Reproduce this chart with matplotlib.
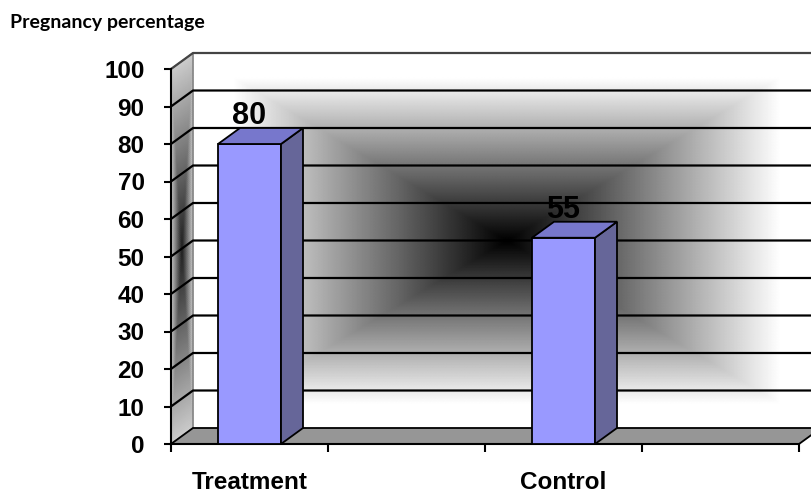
import numpy as np
import matplotlib.pyplot as plt
from matplotlib.patches import Polygon, Rectangle

# chart data
categories = ["Treatment", "", "Control", ""]
values = [80, np.nan, 55, np.nan]
y_ticks = list(range(0, 101, 10))
title = "Pregnancy percentage"

plt.rcParams['font.family'] = ['Liberation Sans', 'DejaVu Sans']
plt.rcParams['font.weight'] = 'bold'

W, H = 811, 495
fig = plt.figure(figsize=(W / 100, H / 100), dpi=100)
ax = fig.add_axes([171 / W, (H - 444) / H, 628 / W, 375 / H])
ax.set_facecolor('none')

n = len(categories)
dx = 22 / 157     # depth offset, category units
dy = 16 / 3.75    # depth offset, value units
bar_w = 63 / 157

# back wall: rectangular gradient, dark in the middle
u, w = np.meshgrid(np.linspace(0, 1, 241), np.linspace(0, 1, 241))
t = np.maximum(np.abs(u - 0.5), np.abs(w - 0.5)) * 2
ax.pcolormesh(dx + u * n, dy + w * 100, np.clip(t * 1.15, 0, 1), cmap='gray',
              vmin=0, vmax=1, shading='gouraud', clip_on=False, zorder=0)

# left side wall
su, sv = np.meshgrid(np.linspace(0, 1, 21), np.linspace(0, 100, 201))
st = np.maximum(np.abs(su - 0.5) * 2, np.abs(sv - 50) / 50)
ax.pcolormesh(su * dx, sv + su * dy, 0.12 + 0.68 * st, cmap='gray', vmin=0, vmax=1,
              shading='gouraud', clip_on=False, zorder=0)
ax.add_patch(Polygon([(0, 0), (0, 100), (dx, 100 + dy), (dx, dy)], closed=True,
                     fc='none', ec='#777777', lw=1, clip_on=False, zorder=1))

# floor
ax.add_patch(Polygon([(0, 0), (n, 0), (n + dx, dy), (dx, dy)], closed=True,
                     fc='#969696', ec='black', lw=1.3, clip_on=False, zorder=1))

# gridlines on side and back walls
for v in y_ticks[1:]:
    c = '#444444' if v == 100 else 'black'
    ax.plot([0, dx, n + dx], [v, v + dy, v + dy], color=c, lw=1.6,
            clip_on=False, zorder=2)

# 3d bars
for i, v in enumerate(values):
    if np.isnan(v):
        continue
    x0 = i + 0.5 - bar_w / 2
    x1 = x0 + bar_w
    ax.add_patch(Rectangle((x0, 0), bar_w, v, fc='#9999FF', ec='black', lw=1.3,
                           clip_on=False, zorder=3))
    ax.add_patch(Polygon([(x1, 0), (x1 + dx, dy), (x1 + dx, v + dy), (x1, v)],
                         closed=True, fc='#666699', ec='black', lw=1.3,
                         clip_on=False, zorder=3))
    ax.add_patch(Polygon([(x0, v), (x1, v), (x1 + dx, v + dy), (x0 + dx, v + dy)],
                         closed=True, fc='#7777CC', ec='black', lw=1.3,
                         clip_on=False, zorder=3))
    ax.annotate(f"{v:g}", (i + 0.5, v + dy), xytext=(0, 4), textcoords='offset pixels',
                ha='center', va='baseline', fontsize=22, fontweight='bold', zorder=4)

ax.set_xlim(0, n)
ax.set_ylim(0, 100)

for s in ['top', 'right']:
    ax.spines[s].set_visible(False)
for s in ['left', 'bottom']:
    ax.spines[s].set_linewidth(1.5)
    ax.spines[s].set_zorder(2)

ax.set_yticks(y_ticks)
ax.tick_params(axis='y', direction='out', length=5, width=1.5, pad=14, labelsize=17.5)

ax.set_xticks(range(n + 1))
ax.set_xticklabels([])
ax.set_xticks([i + 0.5 for i in range(n)], minor=True)
ax.set_xticklabels(categories, minor=True)
ax.tick_params(axis='x', which='major', direction='out', length=6, width=1.5)
ax.tick_params(axis='x', which='minor', length=0, pad=19.5, labelsize=17.5)

fig.text(10 / W, 1 - 14 / H, title, ha='left', va='top', fontsize=14,
         fontweight='bold', family=['Lato', 'DejaVu Sans'])

fig.savefig('out.png', dpi=100)
